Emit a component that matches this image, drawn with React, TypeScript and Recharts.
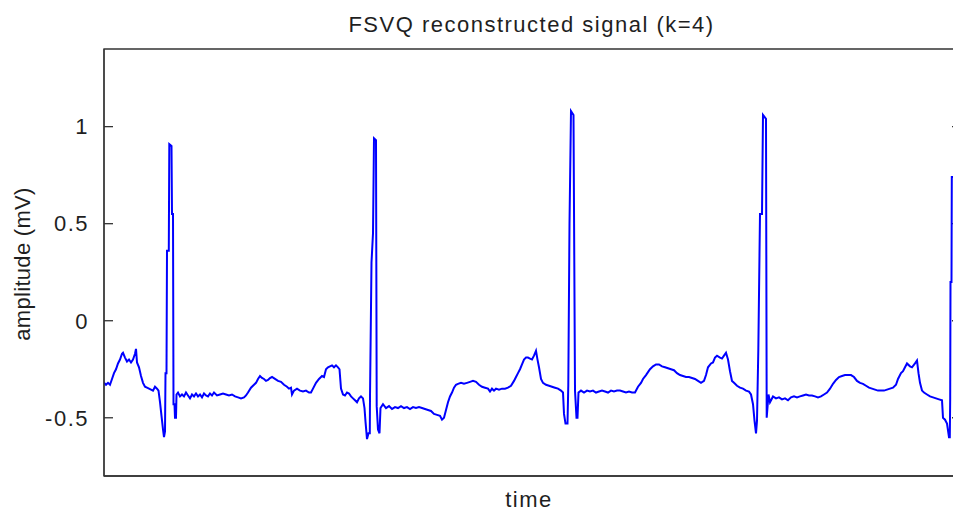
import { Label, Line, LineChart, ReferenceArea, ReferenceLine, XAxis, YAxis } from "recharts";

const FONT = '"Liberation Sans", Arial, Helvetica, sans-serif';
const INK = "#1f1f1f";
const AXIS = "#333333";

// [time (samples), amplitude (mV)], beat by beat
const beat1 = [
  [0, -0.32], [2, -0.33], [4, -0.32], [6, -0.33], [8, -0.3], [10, -0.27], [12, -0.25], [14, -0.22],
  [16, -0.2], [18, -0.17], [19, -0.165], [21, -0.19], [23, -0.21], [25, -0.2], [27, -0.215], [29, -0.2],
  [31, -0.17], [32, -0.145], [33, -0.215], [35, -0.24], [37, -0.285], [39, -0.32], [41, -0.34], [43, -0.345],
  [45, -0.35], [47, -0.355], [49, -0.36], [51, -0.34], [53, -0.35], [54.5, -0.36], [56, -0.42], [57.5, -0.49],
  [59, -0.56], [60, -0.6], [61, -0.57], [61.5, -0.27], [62.5, -0.27], [63, 0.36], [64.8, 0.36], [65.3, 0.91],
  [67.5, 0.9], [68, 0.55], [69, 0.55], [69.5, -0.43], [70.5, -0.43], [71, -0.5], [72, -0.5], [72.5, -0.38],
];

const beat2 = [
  [74, -0.37], [76, -0.39], [78, -0.38], [80, -0.39], [82, -0.37], [84, -0.385], [86, -0.4], [88, -0.38],
  [90, -0.39], [92, -0.375], [94, -0.39], [96, -0.38], [98, -0.395], [100, -0.375], [102, -0.385], [104, -0.39],
  [106, -0.375], [108, -0.385], [110, -0.37], [113, -0.385], [116, -0.38], [119, -0.375], [122, -0.38], [125, -0.385],
  [128, -0.38], [131, -0.39], [134, -0.395], [137, -0.4], [140, -0.395], [142, -0.385], [144, -0.37], [147, -0.345],
  [150, -0.33], [152, -0.32], [154, -0.3], [156, -0.285], [158, -0.295], [160, -0.3], [162, -0.31], [164, -0.305],
  [166, -0.295], [168, -0.29], [171, -0.3], [174, -0.31], [177, -0.315], [180, -0.33], [183, -0.34], [185, -0.35],
  [187, -0.345], [188, -0.38], [190, -0.36], [193, -0.35], [196, -0.36], [199, -0.365], [202, -0.36], [205, -0.37],
  [207, -0.37], [209, -0.35], [212, -0.32], [215, -0.3], [218, -0.285], [220, -0.29], [222, -0.25], [224, -0.24],
  [226, -0.235], [228, -0.23], [230, -0.24], [232, -0.23], [234, -0.24], [235.5, -0.25], [237, -0.35], [239, -0.38],
  [241, -0.385], [243, -0.37], [245, -0.375], [247, -0.39], [249, -0.4], [251, -0.41], [253, -0.42], [255, -0.4],
  [257, -0.39], [259, -0.4], [260.5, -0.45], [261.5, -0.52], [263, -0.61], [264.5, -0.58], [265.8, -0.58], [266, -0.39],
  [267.5, 0.3], [269, 0.45], [270, 0.94], [272, 0.93], [272.7, -0.44], [274, -0.56], [275.5, -0.58], [276.5, -0.45],
];

const beat3 = [
  [279, -0.43], [282, -0.45], [285, -0.44], [288, -0.455], [291, -0.445], [294, -0.45], [297, -0.44], [300, -0.45],
  [303, -0.445], [306, -0.455], [309, -0.445], [312, -0.45], [315, -0.445], [318, -0.45], [321, -0.455], [324, -0.46],
  [327, -0.465], [330, -0.48], [333, -0.485], [336, -0.49], [338, -0.51], [340, -0.5], [342, -0.46], [344, -0.42],
  [346, -0.39], [348, -0.37], [350, -0.345], [352, -0.33], [354, -0.325], [357, -0.32], [360, -0.325], [363, -0.32],
  [366, -0.315], [369, -0.31], [372, -0.315], [375, -0.33], [378, -0.34], [381, -0.345], [384, -0.35], [386, -0.365],
  [388, -0.35], [390, -0.36], [392, -0.35], [395, -0.355], [398, -0.35], [401, -0.35], [404, -0.345], [407, -0.335],
  [410, -0.31], [412, -0.29], [414, -0.27], [416, -0.25], [418, -0.225], [420, -0.2], [422, -0.19], [424, -0.19],
  [426, -0.195], [428, -0.2], [430, -0.18], [432, -0.155], [433.5, -0.2], [435, -0.24], [437, -0.3], [439, -0.32],
  [442, -0.33], [445, -0.335], [448, -0.34], [451, -0.345], [454, -0.35], [457, -0.36], [459, -0.37], [460, -0.48],
  [461.5, -0.53], [463.5, -0.53], [464.3, -0.33], [465.5, 0.5], [467, 1.08], [469.5, 1.06], [470.3, 0.3], [471, -0.36],
  [472.5, -0.5], [473.5, -0.5], [474.5, -0.37],
];

const beat4 = [
  [477, -0.36], [480, -0.37], [483, -0.36], [486, -0.365], [489, -0.36], [492, -0.37], [495, -0.365], [498, -0.36],
  [501, -0.365], [504, -0.37], [507, -0.36], [510, -0.365], [513, -0.36], [516, -0.36], [519, -0.365], [522, -0.37],
  [525, -0.365], [528, -0.37], [531, -0.37], [534, -0.34], [537, -0.32], [539, -0.3], [542, -0.28], [544, -0.265],
  [546, -0.25], [549, -0.235], [552, -0.225], [555, -0.225], [558, -0.235], [561, -0.24], [564, -0.245], [567, -0.25],
  [570, -0.255], [573, -0.27], [576, -0.28], [579, -0.285], [582, -0.29], [585, -0.29], [588, -0.295], [591, -0.3],
  [594, -0.31], [597, -0.32], [600, -0.31], [602, -0.28], [604, -0.24], [607, -0.22], [609, -0.215], [611, -0.19],
  [613, -0.18], [616, -0.19], [618, -0.195], [620, -0.18], [622, -0.165], [624, -0.2], [626, -0.26], [628, -0.31],
  [630, -0.32], [633, -0.335], [636, -0.345], [639, -0.35], [642, -0.36], [645, -0.365], [647, -0.38], [649, -0.43],
  [650.5, -0.515], [652, -0.58], [653, -0.515], [654.3, -0.155], [656, 0.55], [658, 0.55], [659, 1.06], [662, 1.04],
  [662.7, -0.5], [664.5, -0.38], [666, -0.42],
];

const beat5 = [
  [669, -0.39], [672, -0.4], [675, -0.395], [678, -0.405], [681, -0.4], [684, -0.41], [687, -0.395], [690, -0.39],
  [693, -0.395], [696, -0.39], [699, -0.385], [702, -0.38], [705, -0.385], [708, -0.385], [711, -0.39], [714, -0.395],
  [717, -0.39], [720, -0.38], [723, -0.37], [726, -0.35], [729, -0.325], [732, -0.305], [735, -0.29], [738, -0.285],
  [741, -0.28], [744, -0.28], [747, -0.28], [750, -0.29], [753, -0.31], [756, -0.32], [759, -0.325], [762, -0.335],
  [765, -0.345], [768, -0.35], [771, -0.355], [774, -0.36], [777, -0.36], [780, -0.36], [783, -0.355], [786, -0.35],
  [789, -0.345], [792, -0.33], [794, -0.3], [797, -0.27], [799, -0.26], [801, -0.24], [803, -0.22], [806, -0.235],
  [808, -0.24], [811, -0.22], [813, -0.205], [814.5, -0.27], [816, -0.32], [818, -0.36], [820, -0.37], [823, -0.38],
  [826, -0.39], [829, -0.395], [832, -0.4], [835, -0.405], [838, -0.41], [839, -0.5], [841, -0.51], [843, -0.53],
  [845, -0.6], [845.8, -0.6], [846.2, -0.4], [846.5, 0.2], [847.5, 0.2], [847.8, 0.74], [849, 0.74],
];

const yTicks = [-0.5, 0, 0.5, 1];
const yDomain = [-0.8, 1.4];
const timeDomain = [0, 857];
const tickLen = 9; // inward tick length, in time units (1 unit = 1px here)
const title = "FSVQ reconstructed signal (k=4)";
const xLabel = "time";
const yLabel = "amplitude (mV)";

const data = [...beat1, ...beat2, ...beat3, ...beat4, ...beat5].map(([t, v]) => ({ t, v }));

const textStyle = { fontFamily: FONT, fontSize: 22, fill: INK };

export default function App() {
  const [t0, t1] = timeDomain;
  return (
    <div style={{ position: "absolute", left: 0, top: 0, width: 953, height: 513, overflow: "hidden", background: "#fff" }}>
      <LineChart width={961} height={513} data={data} margin={{ top: 49, right: 0, bottom: 0, left: 0 }}>
        <XAxis
          xAxisId="bottom" dataKey="t" type="number" domain={timeDomain} allowDataOverflow
          height={37} tick={false} tickLine={false}
          axisLine={{ stroke: AXIS, strokeWidth: 1.3 }}
        >
          <Label
            content={() => (
              <text x={529} y={506.5} textAnchor="middle" letterSpacing={1.5} {...textStyle}>{xLabel}</text>
            )}
          />
        </XAxis>
        <YAxis
          yAxisId="left" type="number" domain={yDomain} allowDataOverflow ticks={yTicks}
          width={104} tickLine={false} tickMargin={9}
          axisLine={{ stroke: AXIS, strokeWidth: 1.3 }}
          tick={{ ...textStyle, letterSpacing: 1.5 }}
        >
          <Label
            content={() => (
              <text
                x={30} y={264} textAnchor="middle" transform="rotate(-90 30 264)"
                letterSpacing={0.3} {...textStyle}
              >
                {yLabel}
              </text>
            )}
          />
        </YAxis>
        <ReferenceArea
          xAxisId="bottom" yAxisId="left"
          x1={t0} x2={t1} y1={yDomain[0]} y2={yDomain[1]}
          fill="none" stroke={AXIS} strokeWidth={1.3} ifOverflow="visible"
          label={() => (
            <text x={531.5} y={31.7} textAnchor="middle" letterSpacing={1.5} {...textStyle}>{title}</text>
          )}
        />
        {yTicks.map((v) => (
          <ReferenceLine
            key={`l${v}`} xAxisId="bottom" yAxisId="left"
            segment={[{ x: t0, y: v }, { x: t0 + tickLen, y: v }]}
            stroke={AXIS} strokeWidth={1.3}
          />
        ))}
        {yTicks.map((v) => (
          <ReferenceLine
            key={`r${v}`} xAxisId="bottom" yAxisId="left"
            segment={[{ x: t1 - tickLen, y: v }, { x: t1, y: v }]}
            stroke={AXIS} strokeWidth={1.3}
          />
        ))}
        <Line
          xAxisId="bottom" yAxisId="left" type="linear" dataKey="v"
          stroke="#0000ff" strokeWidth={2} dot={false} activeDot={false}
          isAnimationActive={false}
        />
      </LineChart>
    </div>
  );
}
